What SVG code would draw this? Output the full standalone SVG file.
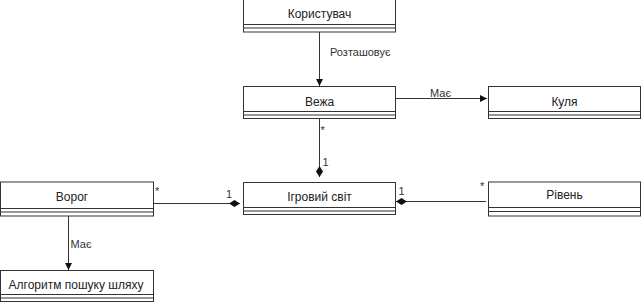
<svg xmlns="http://www.w3.org/2000/svg" width="642" height="304" viewBox="0 0 642 304">
<style>
.box{fill:#fff;stroke:#333;stroke-width:1}
.sep{stroke:#333;stroke-width:1}
.t{font-family:"Liberation Sans",Arial,sans-serif;font-size:12px;fill:#222;text-anchor:middle;dominant-baseline:central}
.l{font-family:"Liberation Sans",Arial,sans-serif;font-size:11px;fill:#333;dominant-baseline:central}
.c{stroke:#333;stroke-width:1;fill:none}
</style>
<defs>
<marker id="arr" markerWidth="8" markerHeight="8" refX="7" refY="4" orient="auto" markerUnits="userSpaceOnUse">
<path d="M0,0.5 L7,4 L0,7.5 Z" fill="#111"/>
</marker>
<marker id="dia" markerWidth="12" markerHeight="8" refX="11" refY="4" orient="auto" markerUnits="userSpaceOnUse">
<path d="M0,4 L5.5,0.5 L11,4 L5.5,7.5 Z" fill="#111"/>
</marker>
</defs>
<g id="node-korystuvach">
<rect class="box" x="243.5" y="-1.5" width="152" height="33.5"/>
<line class="sep" x1="243.5" y1="24.5" x2="395.5" y2="24.5"/>
<line class="sep" x1="243.5" y1="28" x2="395.5" y2="28"/>
<text class="t" x="319.5" y="14">Користувач</text>
</g>
<g id="node-vezha">
<rect class="box" x="243.5" y="86.5" width="152" height="32"/>
<line class="sep" x1="243.5" y1="111.5" x2="395.5" y2="111.5"/>
<line class="sep" x1="243.5" y1="115" x2="395.5" y2="115"/>
<text class="t" x="319.5" y="101.5">Вежа</text>
</g>
<g id="node-kulya">
<rect class="box" x="488.5" y="86.5" width="152" height="32"/>
<line class="sep" x1="488.5" y1="111.5" x2="640.5" y2="111.5"/>
<line class="sep" x1="488.5" y1="115" x2="640.5" y2="115"/>
<text class="t" x="564.5" y="101.5">Куля</text>
</g>
<g id="node-ihrovyi-svit">
<rect class="box" x="243.5" y="182.5" width="152" height="32"/>
<line class="sep" x1="243.5" y1="207.5" x2="395.5" y2="207.5"/>
<line class="sep" x1="243.5" y1="211" x2="395.5" y2="211"/>
<text class="t" x="319.5" y="196.5">Ігровий світ</text>
</g>
<g id="node-vorog">
<rect class="box" x="0.5" y="182" width="153" height="34"/>
<line class="sep" x1="0.5" y1="208.5" x2="153.5" y2="208.5"/>
<line class="sep" x1="0.5" y1="212" x2="153.5" y2="212"/>
<text class="t" x="72" y="196.5">Ворог</text>
</g>
<g id="node-riven">
<rect class="box" x="488.5" y="182" width="152" height="34"/>
<line class="sep" x1="488.5" y1="207.5" x2="640.5" y2="207.5"/>
<line class="sep" x1="488.5" y1="211.5" x2="640.5" y2="211.5"/>
<text class="t" x="564.5" y="194.5">Рівень</text>
</g>
<g id="node-alhorytm">
<rect class="box" x="0.5" y="270.5" width="153" height="31"/>
<line class="sep" x1="0.5" y1="294.5" x2="153.5" y2="294.5"/>
<line class="sep" x1="0.5" y1="298" x2="153.5" y2="298"/>
<text class="t" x="76" y="285">Алгоритм пошуку шляху</text>
</g>
<g id="connectors">
<line class="c" x1="319.5" y1="32" x2="319.5" y2="86" marker-end="url(#arr)"/>
<text class="l" x="330" y="52">Розташовує</text>
<line class="c" x1="395.5" y1="98.5" x2="487" y2="98.5" marker-end="url(#arr)"/>
<text class="l" x="430" y="92.5">Має</text>
<line class="c" x1="319.5" y1="118.5" x2="319.5" y2="177" marker-end="url(#dia)"/>
<text class="l" x="320.5" y="130">*</text>
<text class="l" x="322.5" y="162">1</text>
<line class="c" x1="153.5" y1="203.5" x2="240" y2="203.5" marker-end="url(#dia)"/>
<text class="l" x="155" y="191">*</text>
<text class="l" x="226" y="194">1</text>
<line class="c" x1="486" y1="201.5" x2="396" y2="201.5" marker-end="url(#dia)"/>
<text class="l" x="398.5" y="191">1</text>
<text class="l" x="480" y="186">*</text>
<line class="c" x1="68.5" y1="216" x2="68.5" y2="270" marker-end="url(#arr)"/>
<text class="l" x="70.5" y="244">Має</text>
</g>
</svg>
